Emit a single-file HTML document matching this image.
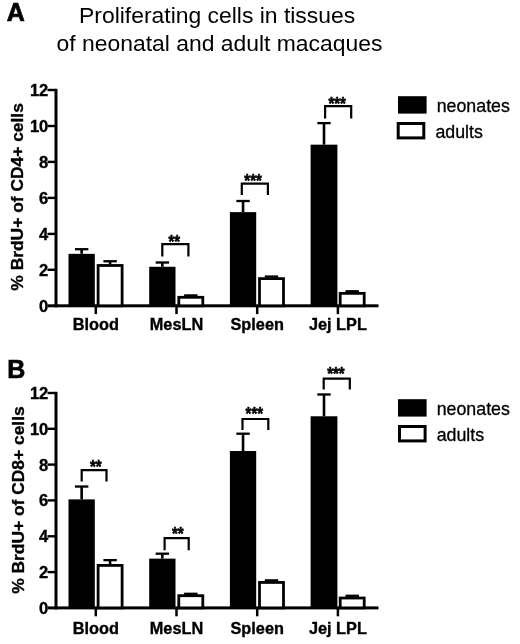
<!DOCTYPE html>
<html lang="en">
<head>
<meta charset="utf-8">
<title>Proliferating cells in tissues of neonatal and adult macaques</title>
<style>
html,body{margin:0;padding:0;background:#fff;}
body{width:520px;height:644px;overflow:hidden;}
svg{display:block;filter:blur(0.4px);}
text{font-family:'Liberation Sans', Arial, Helvetica, sans-serif;fill:#000;}
.tk{font-size:16.5px;font-weight:bold;stroke:#000;stroke-width:0.35px;}
.xl{font-size:16.3px;font-weight:bold;stroke:#000;stroke-width:0.35px;}
.yl{font-size:17.4px;font-weight:bold;stroke:#000;stroke-width:0.35px;}
.st{font-size:15px;font-weight:bold;stroke:#000;stroke-width:0.5px;}
.lg{font-size:17.8px;stroke:#000;stroke-width:0.3px;}
.pl{font-size:25px;font-weight:bold;stroke:#000;stroke-width:0.7px;}
.tt{font-size:22.9px;}
</style>
</head>
<body>
<svg width="520" height="644" viewBox="0 0 520 644">
<rect width="520" height="644" fill="#fff"/>
<rect x="54.5" y="88.8" width="3" height="218.5" fill="#000"/>
<rect x="47.5" y="304.3" width="331" height="3" fill="#000"/>
<text x="48.3" y="311.7" text-anchor="end" class="tk">0</text>
<rect x="47.5" y="268.6" width="8" height="2.4" fill="#000"/>
<text x="48.3" y="275.7" text-anchor="end" class="tk">2</text>
<rect x="47.5" y="232.7" width="8" height="2.4" fill="#000"/>
<text x="48.3" y="239.8" text-anchor="end" class="tk">4</text>
<rect x="47.5" y="196.7" width="8" height="2.4" fill="#000"/>
<text x="48.3" y="203.8" text-anchor="end" class="tk">6</text>
<rect x="47.5" y="160.7" width="8" height="2.4" fill="#000"/>
<text x="48.3" y="167.8" text-anchor="end" class="tk">8</text>
<rect x="47.5" y="124.8" width="8" height="2.4" fill="#000"/>
<text x="48.3" y="131.9" text-anchor="end" class="tk">10</text>
<rect x="47.5" y="88.8" width="8" height="2.4" fill="#000"/>
<text x="48.3" y="95.9" text-anchor="end" class="tk">12</text>
<rect x="94.55" y="305.8" width="2.5" height="8.3" fill="#000"/>
<text x="95.8" y="330.1" text-anchor="middle" class="xl">Blood</text>
<rect x="68.50" y="253.83" width="26.30" height="51.97" fill="#000"/>
<rect x="80.35" y="249.15" width="2.6" height="4.68" fill="#000"/>
<rect x="74.95" y="248.05" width="13.4" height="2.3" fill="#000"/>
<rect x="98.10" y="265.48" width="24.00" height="40.32" fill="#fff" stroke="#000" stroke-width="2.8"/>
<rect x="108.80" y="261.20" width="2.6" height="2.88" fill="#000"/>
<rect x="103.40" y="260.10" width="13.4" height="2.3" fill="#000"/>
<rect x="175.25" y="305.8" width="2.5" height="8.3" fill="#000"/>
<text x="176.5" y="330.1" text-anchor="middle" class="xl">MesLN</text>
<rect x="149.20" y="266.78" width="26.30" height="39.02" fill="#000"/>
<rect x="161.05" y="262.46" width="2.6" height="4.32" fill="#000"/>
<rect x="155.65" y="261.36" width="13.4" height="2.3" fill="#000"/>
<rect x="178.80" y="297.31" width="24.00" height="8.49" fill="#fff" stroke="#000" stroke-width="2.8"/>
<rect x="189.50" y="295.37" width="2.6" height="0.54" fill="#000"/>
<rect x="184.10" y="294.27" width="13.4" height="2.3" fill="#000"/>
<path d="M162.3 256.4 V244.2 H188.4 V256.4" fill="none" stroke="#000" stroke-width="2.2"/>
<text transform="translate(174.3 248.1) scale(1 1.2)" text-anchor="middle" class="st">**</text>
<rect x="255.95" y="305.8" width="2.5" height="8.3" fill="#000"/>
<text x="257.2" y="330.1" text-anchor="middle" class="xl">Spleen</text>
<rect x="229.90" y="212.11" width="26.30" height="93.69" fill="#000"/>
<rect x="241.75" y="200.96" width="2.6" height="11.15" fill="#000"/>
<rect x="236.35" y="199.86" width="13.4" height="2.3" fill="#000"/>
<rect x="259.50" y="278.61" width="24.00" height="27.19" fill="#fff" stroke="#000" stroke-width="2.8"/>
<rect x="270.20" y="276.49" width="2.6" height="0.72" fill="#000"/>
<rect x="264.80" y="275.39" width="13.4" height="2.3" fill="#000"/>
<path d="M241.8 195.1 V183.7 H267.9 V195.1" fill="none" stroke="#000" stroke-width="2.2"/>
<text transform="translate(253.1 187.0) scale(1 1.2)" text-anchor="middle" class="st">***</text>
<rect x="336.65" y="305.8" width="2.5" height="8.3" fill="#000"/>
<text x="337.9" y="330.1" text-anchor="middle" class="xl">Jej LPL</text>
<rect x="310.60" y="144.67" width="26.80" height="161.13" fill="#000"/>
<rect x="322.70" y="123.09" width="2.6" height="21.58" fill="#000"/>
<rect x="317.30" y="121.99" width="13.4" height="2.3" fill="#000"/>
<rect x="340.20" y="293.35" width="24.00" height="12.45" fill="#fff" stroke="#000" stroke-width="2.8"/>
<rect x="350.90" y="291.23" width="2.6" height="0.72" fill="#000"/>
<rect x="345.50" y="290.13" width="13.4" height="2.3" fill="#000"/>
<path d="M325.1 118.4 V106.2 H351.2 V118.4" fill="none" stroke="#000" stroke-width="2.2"/>
<text transform="translate(337.2 110.0) scale(1 1.2)" text-anchor="middle" class="st">***</text>
<text transform="translate(23.2 196.9) rotate(-90)" text-anchor="middle" class="yl">% BrdU+ of CD4+ cells</text>
<rect x="398" y="96.2" width="28.6" height="17.4" fill="#000"/>
<rect x="398.2" y="123.5" width="25.6" height="14.4" fill="#fff" stroke="#000" stroke-width="3"/>
<text x="436.7" y="111.5" class="lg">neonates</text>
<text x="435.4" y="137.6" class="lg">adults</text>
<rect x="54.5" y="391.8" width="3" height="217.6" fill="#000"/>
<rect x="47.5" y="606.4" width="331" height="3" fill="#000"/>
<text x="48.3" y="613.8" text-anchor="end" class="tk">0</text>
<rect x="47.5" y="570.9" width="8" height="2.4" fill="#000"/>
<text x="48.3" y="578.0" text-anchor="end" class="tk">2</text>
<rect x="47.5" y="535.1" width="8" height="2.4" fill="#000"/>
<text x="48.3" y="542.2" text-anchor="end" class="tk">4</text>
<rect x="47.5" y="499.2" width="8" height="2.4" fill="#000"/>
<text x="48.3" y="506.3" text-anchor="end" class="tk">6</text>
<rect x="47.5" y="463.4" width="8" height="2.4" fill="#000"/>
<text x="48.3" y="470.5" text-anchor="end" class="tk">8</text>
<rect x="47.5" y="427.6" width="8" height="2.4" fill="#000"/>
<text x="48.3" y="434.7" text-anchor="end" class="tk">10</text>
<rect x="47.5" y="391.8" width="8" height="2.4" fill="#000"/>
<text x="48.3" y="398.9" text-anchor="end" class="tk">12</text>
<rect x="94.55" y="607.9" width="2.5" height="8.4" fill="#000"/>
<text x="95.8" y="633.8" text-anchor="middle" class="xl">Blood</text>
<rect x="68.50" y="499.38" width="26.30" height="108.52" fill="#000"/>
<rect x="80.35" y="486.48" width="2.6" height="12.89" fill="#000"/>
<rect x="74.95" y="485.38" width="13.4" height="2.3" fill="#000"/>
<rect x="98.10" y="565.42" width="24.00" height="42.48" fill="#fff" stroke="#000" stroke-width="2.8"/>
<rect x="108.80" y="560.08" width="2.6" height="3.94" fill="#000"/>
<rect x="103.40" y="558.98" width="13.4" height="2.3" fill="#000"/>
<path d="M81.7 481.5 V470.2 H106.5 V481.5" fill="none" stroke="#000" stroke-width="2.2"/>
<text transform="translate(95.8 473.1) scale(1 1.2)" text-anchor="middle" class="st">**</text>
<rect x="175.25" y="607.9" width="2.5" height="8.4" fill="#000"/>
<text x="176.5" y="633.8" text-anchor="middle" class="xl">MesLN</text>
<rect x="149.20" y="558.65" width="26.30" height="49.25" fill="#000"/>
<rect x="161.05" y="553.64" width="2.6" height="5.01" fill="#000"/>
<rect x="155.65" y="552.54" width="13.4" height="2.3" fill="#000"/>
<rect x="178.80" y="595.69" width="24.00" height="12.21" fill="#fff" stroke="#000" stroke-width="2.8"/>
<rect x="189.50" y="593.75" width="2.6" height="0.54" fill="#000"/>
<rect x="184.10" y="592.65" width="13.4" height="2.3" fill="#000"/>
<path d="M164.6 550.3 V538.2 H188.7 V550.3" fill="none" stroke="#000" stroke-width="2.2"/>
<text transform="translate(177.8 540.4) scale(1 1.2)" text-anchor="middle" class="st">**</text>
<rect x="255.95" y="607.9" width="2.5" height="8.4" fill="#000"/>
<text x="257.2" y="633.8" text-anchor="middle" class="xl">Spleen</text>
<rect x="229.90" y="451.02" width="26.30" height="156.88" fill="#000"/>
<rect x="241.75" y="433.65" width="2.6" height="17.37" fill="#000"/>
<rect x="236.35" y="432.55" width="13.4" height="2.3" fill="#000"/>
<rect x="259.50" y="582.44" width="24.00" height="25.46" fill="#fff" stroke="#000" stroke-width="2.8"/>
<rect x="270.20" y="580.32" width="2.6" height="0.72" fill="#000"/>
<rect x="264.80" y="579.22" width="13.4" height="2.3" fill="#000"/>
<path d="M242.5 429.9 V419.0 H268.3 V429.9" fill="none" stroke="#000" stroke-width="2.2"/>
<text transform="translate(254.3 420.4) scale(1 1.2)" text-anchor="middle" class="st">***</text>
<rect x="336.65" y="607.9" width="2.5" height="8.4" fill="#000"/>
<text x="337.9" y="633.8" text-anchor="middle" class="xl">Jej LPL</text>
<rect x="310.60" y="416.28" width="26.80" height="191.62" fill="#000"/>
<rect x="322.70" y="394.43" width="2.6" height="21.85" fill="#000"/>
<rect x="317.30" y="393.33" width="13.4" height="2.3" fill="#000"/>
<rect x="340.20" y="598.02" width="24.00" height="9.88" fill="#fff" stroke="#000" stroke-width="2.8"/>
<rect x="350.90" y="595.72" width="2.6" height="0.90" fill="#000"/>
<rect x="345.50" y="594.62" width="13.4" height="2.3" fill="#000"/>
<path d="M323.7 389.4 V378.6 H349.8 V389.4" fill="none" stroke="#000" stroke-width="2.2"/>
<text transform="translate(335.9 380.1) scale(1 1.2)" text-anchor="middle" class="st">***</text>
<text transform="translate(24.1 500.1) rotate(-90)" text-anchor="middle" class="yl">% BrdU+ of CD8+ cells</text>
<rect x="398" y="399.2" width="28.6" height="17.4" fill="#000"/>
<rect x="399.5" y="426.5" width="25.6" height="14.4" fill="#fff" stroke="#000" stroke-width="3"/>
<text x="436.7" y="414.5" class="lg">neonates</text>
<text x="436.7" y="440.6" class="lg">adults</text>
<text x="6.7" y="21.3" class="pl">A</text>
<text x="7.2" y="378" class="pl">B</text>
<text x="217.1" y="23.2" text-anchor="middle" class="tt">Proliferating cells in tissues</text>
<text x="219.5" y="51.4" text-anchor="middle" class="tt">of neonatal and adult macaques</text>
</svg>
</body>
</html>
